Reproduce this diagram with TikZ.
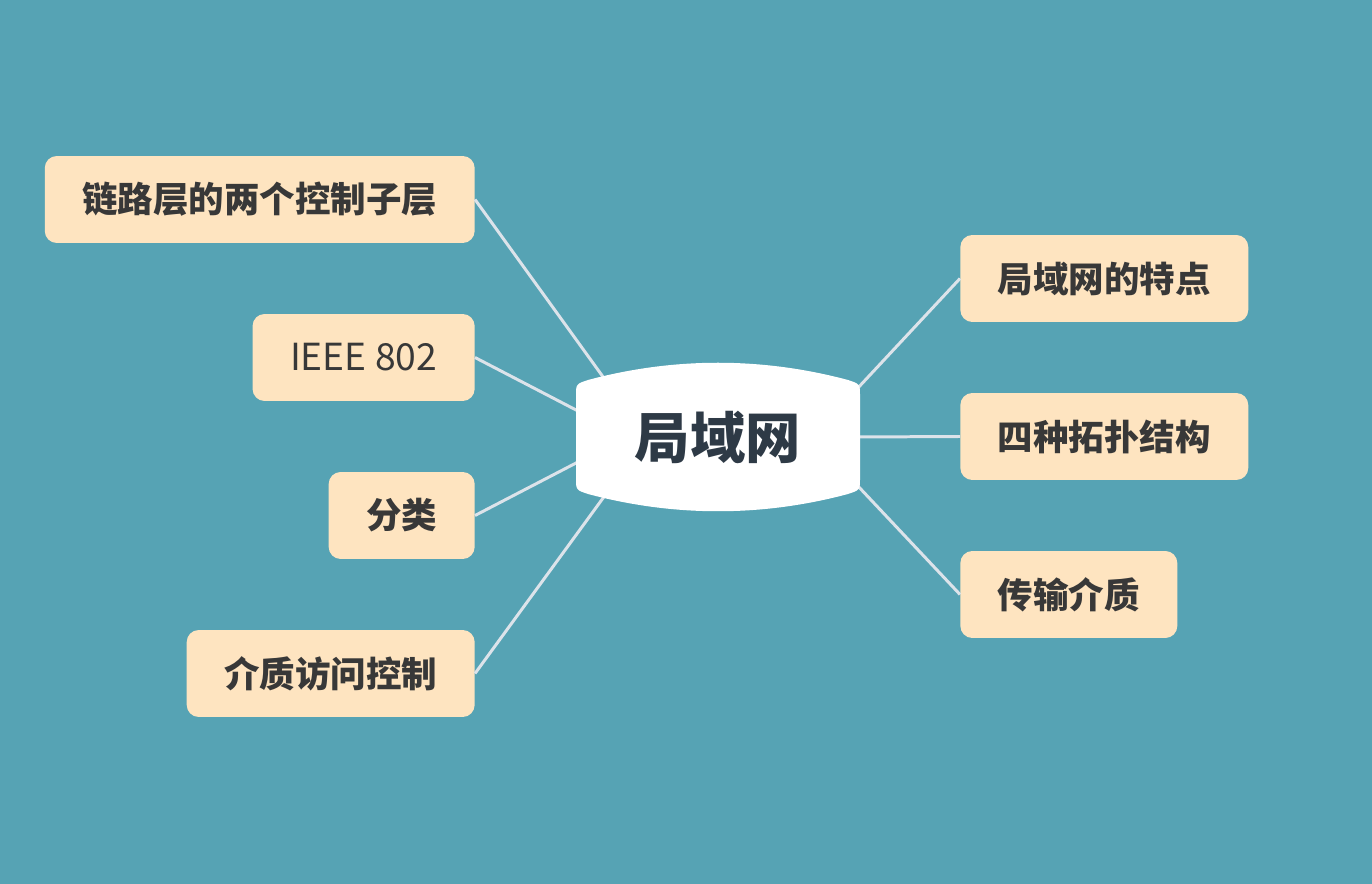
\documentclass[tikz,border=0pt]{standalone}
\usepackage{fontspec}
\usepackage{xcolor}
\usepackage{tikz}
\usetikzlibrary{positioning, calc}
\newfontfamily\cjk{Noto Sans CJK SC}

\definecolor{bgteal}{HTML}{56A3B4}
\definecolor{topicfill}{HTML}{FEE4C0}
\definecolor{topictext}{HTML}{383838}
\definecolor{centertext}{HTML}{2E3A46}
\definecolor{linkgray}{HTML}{DCE3EA}

\begin{document}
\begin{tikzpicture}[
  x=0.02cm, y=-0.02cm,
  topic/.style={rectangle, rounded corners=0.24cm, fill=topicfill, text=topictext,
                minimum height=1.74cm, inner xsep=0.75cm, inner ysep=0pt,
                font=\cjk\bfseries\fontsize{20.2}{24}\selectfont},
  plain/.style={topic, font=\cjk\fontsize{21.2}{25}\selectfont},
  link/.style={linkgray, line width=1.7pt}
]
\fill[bgteal] (0,0) rectangle (1372,884);
\useasboundingbox (0,0) rectangle (1372,884);

% left branches
\node[topic, anchor=east] (chain) at (475, 199.5) {链路层的两个控制子层};
\node[plain, anchor=east] (ieee) at (475, 357.5) {IEEE 802};
\node[topic, anchor=east] (kinds) at (475, 515.5) {分类};
\node[topic, anchor=east] (mac) at (475, 673.5) {介质访问控制};

% right branches
\node[topic, anchor=west] (feat) at (960, 278.5) {局域网的特点};
\node[topic, anchor=west] (topo) at (960, 436.5) {四种拓扑结构};
\node[topic, anchor=west] (media) at (960, 594.5) {传输介质};

% attach points on the centre shape
\coordinate (a1) at (606, 381);
\coordinate (a2) at (578, 411);
\coordinate (a3) at (578, 462);
\coordinate (a4) at (606, 494);
\coordinate (b1) at (856, 390);
\coordinate (b2) at (858, 437);
\coordinate (b3) at (856, 484);

\draw[link] (chain.east) -- (a1);
\draw[link] (ieee.east) -- (a2);
\draw[link] (kinds.east) -- (a3);
\draw[link] (mac.east) -- (a4);
\draw[link] (feat.west) -- (b1);
\draw[link] (topo.west) -- (b2);
\draw[link] (media.west) -- (b3);

% centre shape
\fill[white] (576, 396) .. controls (576, 384) .. (588, 380)
  .. controls (674, 357) and (762, 357) .. (848, 380)
  .. controls (860, 384) .. (860, 396)
  -- (860, 478) .. controls (860, 490) .. (848, 494)
  .. controls (762, 517) and (674, 517) .. (588, 494)
  .. controls (576, 490) .. (576, 478) -- cycle;
\node[text=centertext, font=\cjk\bfseries\fontsize{31.5}{38}\selectfont] (lan) at (718, 437) {局域网};
\end{tikzpicture}
\end{document}
